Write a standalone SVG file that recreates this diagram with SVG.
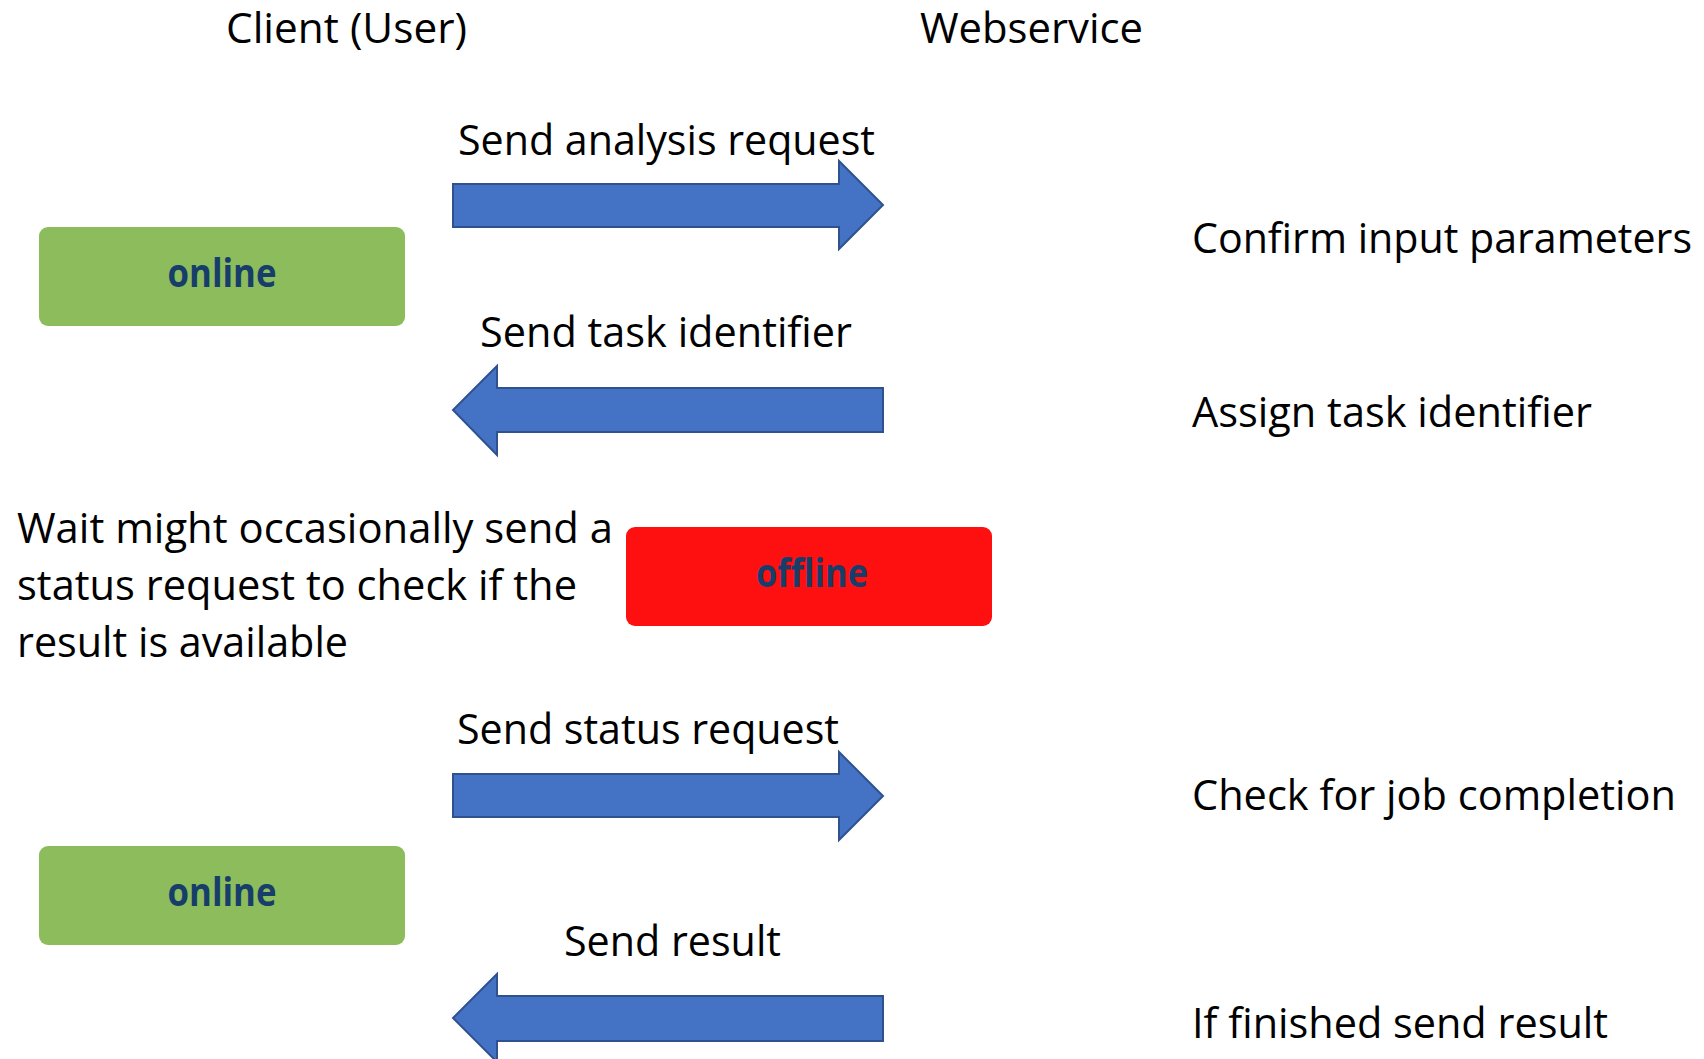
<svg xmlns="http://www.w3.org/2000/svg" width="1704" height="1059" viewBox="0 0 1704 1059">
  <style>
    text { font-family: "Open Sans", "Liberation Sans", sans-serif; fill: #000000; }
    .lbl { font-size: 42px; }
    .state { font-size: 39px; font-weight: bold; fill: #173E6B; text-anchor: middle; }
    .online { fill: #8CBC5C; }
    .offline { fill: #FF1010; }
    .arrow { fill: #4472C4; stroke: #2F528F; stroke-width: 2; }
  </style>
  <rect width="1704" height="1059" fill="#FFFFFF"/>

  <!-- column headings -->
  <g id="header-client"><text class="lbl" x="226" y="43" textLength="241" lengthAdjust="spacingAndGlyphs">Client (User)</text></g>
  <g id="header-webservice"><text class="lbl" x="920" y="43" textLength="223" lengthAdjust="spacingAndGlyphs">Webservice</text></g>

  <!-- client state boxes -->
  <g id="online-1">
    <rect class="online" x="39" y="227" width="366" height="99" rx="9"/>
    <text class="state" x="222" y="287" textLength="109" lengthAdjust="spacingAndGlyphs">online</text>
  </g>
  <g id="offline">
    <rect class="offline" x="626" y="527" width="366" height="99" rx="9"/>
    <text class="state" x="812" y="587" textLength="112" lengthAdjust="spacingAndGlyphs">offline</text>
  </g>
  <g id="online-2">
    <rect class="online" x="39" y="846" width="366" height="99" rx="9"/>
    <text class="state" x="222" y="906" textLength="109" lengthAdjust="spacingAndGlyphs">online</text>
  </g>

  <!-- client waiting note -->
  <g id="wait-note">
    <text class="lbl" x="17" y="543" textLength="596" lengthAdjust="spacingAndGlyphs">Wait might occasionally send a</text>
    <text class="lbl" x="17" y="600" textLength="560" lengthAdjust="spacingAndGlyphs">status request to check if the</text>
    <text class="lbl" x="17" y="657" textLength="331" lengthAdjust="spacingAndGlyphs">result is available</text>
  </g>

  <!-- webservice actions -->
  <g id="confirm"><text class="lbl" x="1192" y="253" textLength="500" lengthAdjust="spacingAndGlyphs">Confirm input parameters</text></g>
  <g id="assign"><text class="lbl" x="1192" y="427" textLength="400" lengthAdjust="spacingAndGlyphs">Assign task identifier</text></g>
  <g id="check"><text class="lbl" x="1192" y="810" textLength="484" lengthAdjust="spacingAndGlyphs">Check for job completion</text></g>
  <g id="finish"><text class="lbl" x="1192" y="1038" textLength="416" lengthAdjust="spacingAndGlyphs">If finished send result</text></g>

  <!-- message arrows -->
  <g id="connectors">
    <g id="msg-analysis">
      <path class="arrow" d="M453,184 H839 V161 L883,205 L839,249 V227 H453 Z"/>
      <text class="lbl" x="458" y="155" textLength="417" lengthAdjust="spacingAndGlyphs">Send analysis request</text>
    </g>
    <g id="msg-task-id">
      <path class="arrow" d="M883,388 H497 V366 L453,410 L497,455 V432 H883 Z"/>
      <text class="lbl" x="480" y="347" textLength="372" lengthAdjust="spacingAndGlyphs">Send task identifier</text>
    </g>
    <g id="msg-status">
      <path class="arrow" d="M453,774 H839 V752 L883,796 L839,840 V817 H453 Z"/>
      <text class="lbl" x="457" y="744" textLength="382" lengthAdjust="spacingAndGlyphs">Send status request</text>
    </g>
    <g id="msg-result">
      <path class="arrow" d="M883,996 H497 V974 L453,1018 L497,1062 V1041 H883 Z"/>
      <text class="lbl" x="564" y="956" textLength="217" lengthAdjust="spacingAndGlyphs">Send result</text>
    </g>
  </g>
</svg>
